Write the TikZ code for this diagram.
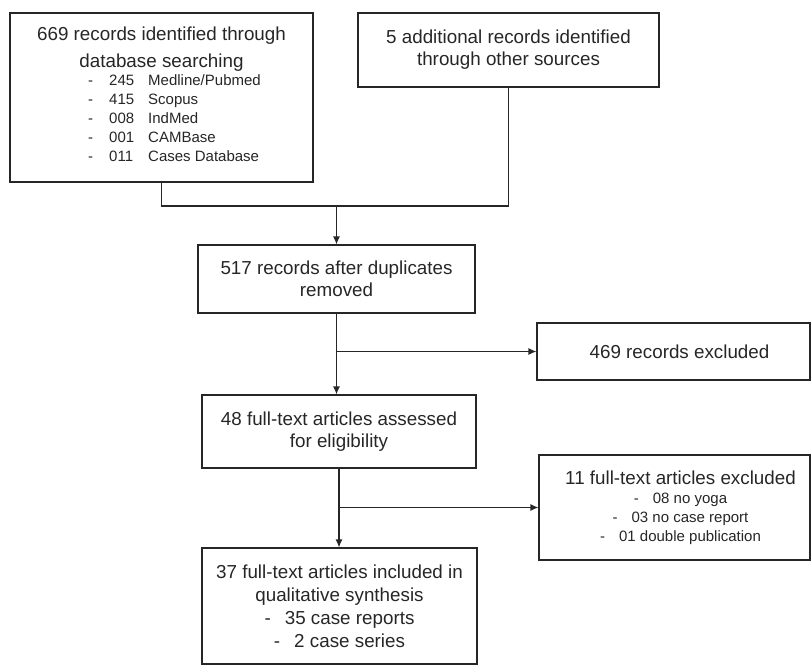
\documentclass[tikz,border=0pt]{standalone}
\usepackage{fontspec}
\setmainfont{Liberation Sans}
\usetikzlibrary{arrows.meta}

\definecolor{ink}{HTML}{262626}
\newcommand{\subsize}{\fontsize{7.5}{9.5}\selectfont}

\begin{document}
\begin{tikzpicture}[x=0.5pt, y=-0.5pt,
	box/.style={shape=rectangle, draw=ink, line width=0.6pt, inner sep=0pt,
		align=center, text=ink, font=\fontsize{9.4}{11}\selectfont},
	link/.style={draw=ink, line width=0.6pt},
	arr/.style={link, -{Latex[length=4pt, width=3.5pt]}}]

	\useasboundingbox (0,0) rectangle (812,666);

	\node[box, minimum width=151.5pt, minimum height=84.5pt] (db) at (161.5, 97.5)
		{669 records identified through\\[2.5pt] database searching\\[-2pt]
		\hspace*{13pt}{\subsize\begin{tabular}[t]{@{}l@{\hspace{8pt}}l@{\hspace{7pt}}l@{}}
			- & 245 & Medline/Pubmed\\
			- & 415 & Scopus\\
			- & 008 & IndMed\\
			- & 001 & CAMBase\\
			- & 011 & Cases Database
		\end{tabular}}};
	\node[box, minimum width=150.5pt, minimum height=37pt] (other) at (508.5, 50)
		{5 additional records identified\\ through other sources};
	\node[box, minimum width=138.5pt, minimum height=34pt] (dup) at (336.5, 279)
		{517 records after duplicates\\ removed};
	\node[box, minimum width=136.5pt, minimum height=28.5pt] (excl1) at (673.5, 351.5)
		{\hspace*{6pt}469 records excluded};
	\node[box, minimum width=137pt, minimum height=36.5pt] (full) at (339, 431.5)
		{48 full-text articles assessed\\ for eligibility};
	\node[box, minimum width=135.5pt, minimum height=52.5pt] (excl2) at (674.5, 507.5)
		{\hspace*{6pt}11 full-text articles excluded\\[-1.5pt]
		{\subsize \hspace*{6pt}-\hspace{7pt}08 no yoga}\\[-1.5pt]
		{\subsize \hspace*{6pt}-\hspace{7pt}03 no case report}\\[-1.5pt]
		{\subsize \hspace*{6pt}-\hspace{7pt}01 double publication}};
	\node[box, minimum width=137.5pt, minimum height=58pt] (incl) at (339.5, 606)
		{37 full-text articles included in\\[0.5pt] qualitative synthesis\\[0.5pt]
		-\hspace{7pt}35 case reports\\[0.5pt] -\hspace{7pt}2 case series};

	% merge of the two sources
	\coordinate (merge) at (336.5, 206);
	\draw[link] (db.south) |- (merge) -| (other.south);
	\draw[arr] (merge) -- (dup);

	% screening and eligibility
	\coordinate (b1) at (dup.south |- excl1.west);
	\coordinate (b2) at (full.south |- excl2.west);
	\draw[arr] (dup.south) -- (dup.south |- full.north);
	\draw[arr] (b1) -- (excl1.west);
	\draw[arr] (full.south) -- (full.south |- incl.north);
	\draw[arr] (b2) -- (excl2.west);

\end{tikzpicture}
\end{document}
